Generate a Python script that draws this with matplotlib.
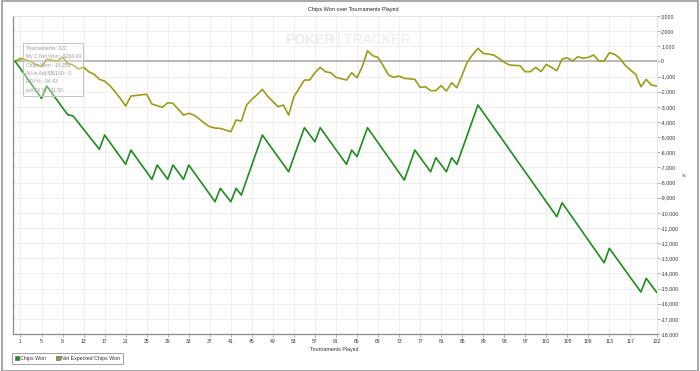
import matplotlib
matplotlib.use("Agg")
import matplotlib.pyplot as plt
from matplotlib.lines import Line2D
from matplotlib.patches import Rectangle, FancyBboxPatch

tournaments = list(range(0, 123))

chips_won = [0, -490, -975, -1460, -1950, -2440, -1620, -2100, -2580, -3060,
             -3520, -3600, -4040, -4480, -4920, -5360, -5800, -4860, -5345, -5830,
             -6310, -6795, -5850, -6335, -6820, -7300, -7786, -6841, -7310, -7786,
             -6841, -7310, -7786, -6841, -7325, -7810, -8290, -8780, -9265, -8380,
             -8823, -9265, -8380, -8823, -7830, -6840, -5850, -4860, -5345, -5830,
             -6315, -6800, -7284, -6310, -5340, -4376, -4840, -5302, -4376, -4860,
             -5345, -5830, -6310, -6795, -5851, -6293, -5330, -4376, -4870, -5365,
             -5860, -6350, -6845, -7340, -7832, -6840, -5851, -6330, -6810, -7284,
             -6359, -6820, -7284, -6359, -6795, -5815, -4835, -3855, -2878, -3370,
             -3860, -4350, -4840, -5335, -5830, -6320, -6810, -7300, -7790, -8285,
             -8775, -9270, -9760, -10256, -9331, -9825, -10320, -10815, -11310, -11810,
             -12305, -12800, -13295, -12343, -12825, -13305, -13785, -14270, -14750, -15230,
             -14325, -14790, -15250]

net_expected = [0, 200, 120, -20, -200, -350, 140, 80, 30, 270,
                -130, -240, -500, -380, -680, -850, -1180, -1300, -1600, -2000,
                -2450, -2946, -2285, -2250, -2200, -2173, -2814, -2920, -3032, -2728,
                -2768, -3150, -3540, -3428, -3540, -3800, -4088, -4310, -4400, -4420,
                -4530, -4644, -3870, -3937, -2880, -2500, -2200, -1843, -2300, -2650,
                -2992, -2880, -3540, -2331, -1777, -1228, -1228, -746, -390, -680,
                -746, -1050, -1140, -1228, -746, -1077, -350, 707, 377, 271,
                -300, -898, -1050, -964, -1116, -1150, -1182, -1711, -1671, -1930,
                -1930, -1600, -1955, -1407, -1737, -898, -20, 450, 865, 535,
                480, 423, 200, -50, -238, -260, -284, -680, -680, -390,
                -680, -192, -400, -614, 158, 244, 26, 310, 205, 271,
                423, 26, 26, 575, 469, 200, -250, -568, -852, -1671,
                -1182, -1560, -1625]

x_ticks = [1, 5, 9, 13, 17, 21, 25, 29, 33, 37, 41, 45, 49, 53, 57, 61, 65, 69, 73,
           77, 81, 85, 89, 93, 97, 101, 105, 109, 113, 117, 122]
y_ticks = list(range(3000, -18001, -1000))

series_names = ["Chips Won", "Net Expected Chips Won"]
colors = ["#1e8c1e", "#9c9c1c"]

tooltip_lines = ["Tournaments: 122", "My C Net Won: -$264.00", "Chips Won: -15,250",
                 "All-In Adj BB/100: -3", "ROI %: -34.43", "evROI %: -31.50"]

FONT = "Liberation Sans"
plt.rcParams["font.family"] = [FONT, "DejaVu Sans"]

W, H = 700, 371
fig = plt.figure(figsize=(7.0, 3.71), dpi=100)
fig.patch.set_facecolor("white")

# outer frame
fig.patches.append(Rectangle((2 / W, 0.5 / H), 696 / W, 369.5 / H, transform=fig.transFigure,
                             fill=False, edgecolor="#9a9a9a", linewidth=1.2))

ax_l, ax_r, ax_t, ax_b = 12.7, 656.7, 16, 334
ax = fig.add_axes([ax_l / W, 1 - ax_b / H, (ax_r - ax_l) / W, (ax_b - ax_t) / H])
ax.set_xlim(-0.48, 122)
ax.set_ylim(-18000, 3000)

ax.set_xticks(x_ticks)
ax.set_xticklabels([str(v) for v in x_ticks])
ax.set_yticks(y_ticks)
ax.set_yticklabels([f"{v:,}" for v in y_ticks])
ax.yaxis.tick_right()
ax.tick_params(axis="x", labelsize=3.6, length=2, width=0.5, color="#888888",
               labelcolor="#333333", pad=1.5)
ax.tick_params(axis="y", labelsize=3.8, length=2, width=0.5, color="#888888",
               labelcolor="#333333", pad=1.2)

ax.grid(True, color="#ededed", linewidth=0.6)
ax.set_axisbelow(True)
for side in ["left", "bottom"]:
    ax.spines[side].set_color("#8c8c8c")
    ax.spines[side].set_linewidth(0.9)
for side in ["top", "right"]:
    ax.spines[side].set_color("#e0e0e0")
    ax.spines[side].set_linewidth(0.6)

ax.axhline(0, color="#a8a8a8", linewidth=1.1, zorder=2)

# watermark
ax.text(0.5, 0.925, "POKER", transform=ax.transAxes, ha="right", va="center",
        fontsize=10, fontweight="bold", color="#ececec", zorder=1)
ax.text(0.503, 0.925, "| TRACKER", transform=ax.transAxes, ha="left", va="center",
        fontsize=10, color="#ececec", zorder=1)

ax.plot(tournaments, net_expected, color=colors[1], linewidth=1.2, zorder=3)
ax.plot(tournaments, chips_won, color=colors[0], linewidth=1.2, zorder=4)

# tooltip box
fig.patches.append(Rectangle((23.3 / W, 1 - 96 / H), 60 / W, 52.7 / H, transform=fig.transFigure,
                             facecolor=(1, 1, 1, 0.35), edgecolor="#c4c4c4", linewidth=0.7, zorder=10))
for i, line in enumerate(tooltip_lines):
    fig.text(25.5 / W, 1 - (48.5 + i * 8.3) / H, line, fontsize=3.6, color="#9a9a9a",
             ha="left", va="center", zorder=11)

ax.set_xlabel("Tournaments Played", fontsize=3.8, color="#333333", labelpad=2)
fig.text(685 / W, 1 - 175 / H, "#", fontsize=3.8, color="#333333", ha="center", va="center",
         rotation=90)
fig.text(0.505, 1 - 9.3 / H, "Chips Won over Tournaments Played", fontsize=4,
         color="#222222", ha="center", va="center")

handles = [Line2D([], [], linestyle="none", marker="s", markersize=3,
                  markerfacecolor=c, markeredgecolor="#555555", markeredgewidth=0.4)
           for c in colors]
leg = fig.legend(handles, series_names, loc="upper left",
                 bbox_to_anchor=(12.3 / W, 1 - 353.3 / H), ncol=2, fontsize=3.8,
                 frameon=True, fancybox=False, handlelength=0.6, handletextpad=0.3,
                 columnspacing=2.0, borderpad=0.5, borderaxespad=0)
leg.get_frame().set_edgecolor("#8c8c8c")
leg.get_frame().set_linewidth(0.7)
for t in leg.get_texts():
    t.set_color("#333333")

fig.savefig("out.png", dpi=100)
